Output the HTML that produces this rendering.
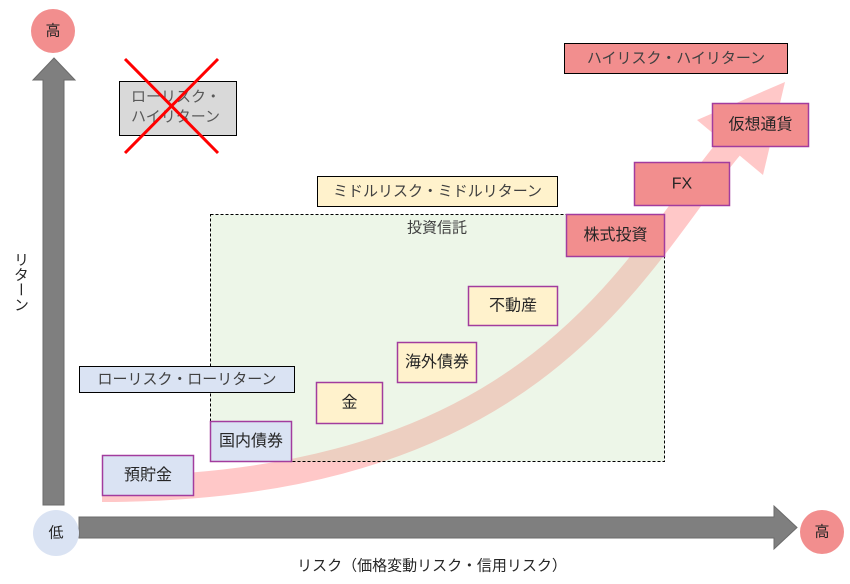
<!DOCTYPE html>
<html><head><meta charset="utf-8">
<style>
html,body{margin:0;padding:0;background:#fff;}
body{width:850px;height:584px;position:relative;overflow:hidden;font-family:"Liberation Sans","Noto Sans CJK JP",sans-serif;}
svg{position:absolute;left:0;top:0;}
svg text{font-family:"Liberation Sans","Noto Sans CJK JP",sans-serif;}
.vt{position:absolute;left:12px;top:252px;writing-mode:vertical-rl;font-size:15px;line-height:16px;color:#262626;font-family:"Liberation Sans","Noto Sans CJK JP",sans-serif;}
</style></head>
<body>
<svg width="850" height="584" viewBox="0 0 850 584" xmlns="http://www.w3.org/2000/svg">
  <!-- pink curved arrow -->
  <path d="M102,489 C540,489 633.5,262 730,147" fill="none" stroke="#ffc8c8" stroke-width="26"/>
  <polygon points="785,82 697,120 763,175" fill="#ffc8c8"/>

  <!-- dashed investment trust box -->
  <rect x="210.5" y="214.5" width="454" height="247" fill="rgba(197,224,180,0.3)" stroke="#000" stroke-width="1" stroke-dasharray="3,2"/>
  <text x="437" y="228" font-size="15" fill="#404040" text-anchor="middle" dominant-baseline="central">投資信託</text>

  <!-- vertical axis arrow -->
  <polygon points="54,58 75,80 64,80 64,505 43,505 43,80 33,80" fill="#7f7f7f" stroke="#6b6b6b" stroke-width="1"/>
  <!-- horizontal axis arrow -->
  <polygon points="79,517 774,517 774,506 797,527.5 774,549 774,538 79,538" fill="#7f7f7f" stroke="#6b6b6b" stroke-width="1"/>

  <!-- circles -->
  <circle cx="53" cy="31" r="22" fill="#f28e8e"/>
  <text x="53" y="31" font-size="15" fill="#262626" text-anchor="middle" dominant-baseline="central">高</text>
  <circle cx="56" cy="533" r="23" fill="#dae3f3"/>
  <text x="56" y="533" font-size="15" fill="#262626" text-anchor="middle" dominant-baseline="central">低</text>
  <circle cx="822" cy="532" r="22" fill="#f28e8e"/>
  <text x="822" y="532" font-size="15" fill="#262626" text-anchor="middle" dominant-baseline="central">高</text>

  <!-- low risk high return (crossed) -->
  <rect x="119.5" y="81.5" width="117" height="54" fill="#d9d9d9" stroke="#000" stroke-width="1"/>
  <text x="131" y="97" font-size="15" fill="#595959" dominant-baseline="central">ローリスク・</text>
  <text x="131" y="117" font-size="15" fill="#595959" dominant-baseline="central">ハイリターン</text>
  <line x1="125" y1="59" x2="218" y2="153" stroke="#ff0000" stroke-width="3"/>
  <line x1="218" y1="59" x2="125" y2="153" stroke="#ff0000" stroke-width="3"/>

  <!-- category labels -->
  <rect x="564.5" y="43.5" width="223" height="30" fill="#f28e8e" stroke="#000" stroke-width="1"/>
  <text x="676" y="58.5" font-size="15" fill="#404040" text-anchor="middle" dominant-baseline="central">ハイリスク・ハイリターン</text>

  <rect x="317.5" y="176.5" width="240" height="30" fill="#fff2cc" stroke="#000" stroke-width="1"/>
  <text x="437.5" y="191.5" font-size="15" fill="#404040" text-anchor="middle" dominant-baseline="central">ミドルリスク・ミドルリターン</text>

  <rect x="79.5" y="366.5" width="215" height="26" fill="#dae3f3" stroke="#000" stroke-width="1"/>
  <text x="187" y="379.5" font-size="15" fill="#404040" text-anchor="middle" dominant-baseline="central">ローリスク・ローリターン</text>

  <!-- asset boxes -->
  <g stroke="#a23c9e" stroke-width="1.5">
    <rect x="712.5" y="103.5" width="96" height="43" fill="#f28e8e"/>
    <rect x="634.5" y="162.5" width="95" height="43" fill="#f28e8e"/>
    <rect x="566.5" y="214.5" width="98" height="42" fill="#f28e8e"/>
    <rect x="468.5" y="286.5" width="89" height="39" fill="#fff2cc"/>
    <rect x="397.5" y="342.5" width="79" height="40" fill="#fff2cc"/>
    <rect x="316.5" y="382.5" width="66" height="41" fill="#fff2cc"/>
    <rect x="210.5" y="421.5" width="81" height="40" fill="#dae3f3"/>
    <rect x="102.5" y="455.5" width="91" height="40" fill="#dae3f3"/>
  </g>
  <g font-size="16" fill="#262626" text-anchor="middle" dominant-baseline="central">
    <text x="760.5" y="125">仮想通貨</text>
    <text x="682" y="184">FX</text>
    <text x="615.5" y="235.5">株式投資</text>
    <text x="513" y="306">不動産</text>
    <text x="437" y="362.5">海外債券</text>
    <text x="349.5" y="403">金</text>
    <text x="251" y="441.5">国内債券</text>
    <text x="148" y="475.5">預貯金</text>
  </g>

  <!-- x axis label -->
  <text x="432" y="566" font-size="15" fill="#262626" text-anchor="middle" dominant-baseline="central">リスク（価格変動リスク・信用リスク）</text>
</svg>
<div class="vt">リターン</div>
</body></html>
